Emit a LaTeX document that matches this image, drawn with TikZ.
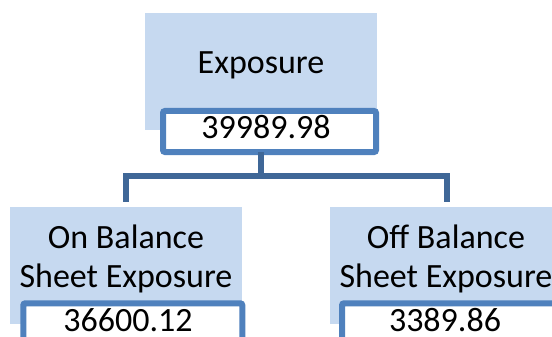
\documentclass[tikz,border=0pt]{standalone}
\usepackage{fontspec}
\setmainfont{Carlito}
\definecolor{boxfill}{HTML}{C6D9F0}
\definecolor{valline}{HTML}{4F81BD}
\definecolor{connline}{HTML}{3F6797}
\begin{document}
\begin{tikzpicture}[x=1pt,y=-1pt,
  bluebox/.style={fill=boxfill, draw=none, inner sep=0pt, anchor=north west},
  valbox/.style={fill=white, draw=valline, line width=6pt, rounded corners=2pt, inner sep=0pt, anchor=north west},
  lbl/.style={font=\fontsize{34}{40}\selectfont, anchor=base, inner sep=0pt},
  conn/.style={draw=connline, line width=6pt}]
\useasboundingbox (0,0) rectangle (552,337);
\clip (0,0) rectangle (552,337);
% top
\node[bluebox, minimum width=232pt, minimum height=117pt] (topbox) at (145,13) {};
\node[valbox, minimum width=213pt, minimum height=41pt] (topval) at (160,108) {};
\node[lbl] (toplbl) at (261,74) {Exposure};
\node[lbl] (topnum) at (266,139) {39989.98};
% left
\node[bluebox, minimum width=232pt, minimum height=117pt] (leftbox) at (10,207) {};
\node[valbox, minimum width=219pt, minimum height=45pt] (leftval) at (20.3,300.3) {};
\node[lbl] (leftlbl1) at (126,248) {On Balance};
\node[lbl] (leftlbl2) at (126,287) {Sheet Exposure};
\node[lbl] (leftnum) at (128,331) {36600.12};
% right
\node[bluebox, minimum width=232pt, minimum height=117pt] (rightbox) at (330,207) {};
\node[valbox, minimum width=219pt, minimum height=45pt] (rightval) at (339,300.3) {};
\node[lbl] (rightlbl1) at (446,248) {Off Balance};
\node[lbl] (rightlbl2) at (446,287) {Sheet Exposure};
\node[lbl] (rightnum) at (445,331) {3389.86};
% connectors
\coordinate (tstart) at (261,152);
\coordinate (junc) at (261,176);
\coordinate (lend) at (125.5,202.3);
\coordinate (rend) at (447,202.3);
\draw[conn] (tstart) -- (junc);
\draw[conn] (junc) -| (lend);
\draw[conn] (junc) -| (rend);
\end{tikzpicture}
\end{document}
